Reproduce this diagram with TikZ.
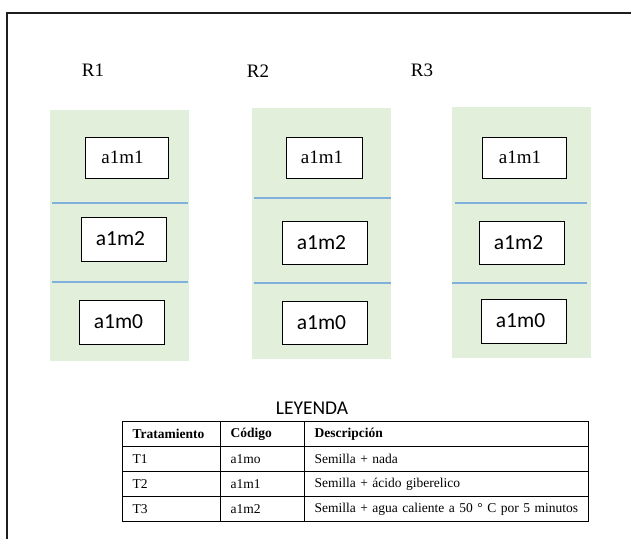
\documentclass[tikz,border=0pt]{standalone}
\usepackage{fontspec}
\setmainfont{Liberation Serif}
\newfontfamily\calib{Carlito}
\definecolor{panelgreen}{RGB}{226,239,218}
\definecolor{sepblue}{RGB}{128,176,222}
\definecolor{framegray}{RGB}{30,30,30}
\tikzset{
  panel/.style={fill=panelgreen, draw=none, inner sep=0pt},
  plotbox/.style={draw=black, line width=1pt, fill=white, inner sep=0pt},
  serlab/.style={font=\fontsize{19}{22}\selectfont},
  sanlab/.style={font=\calib\fontsize{21.5}{24}\selectfont},
  rlabel/.style={font=\fontsize{19}{22}\selectfont, inner sep=0pt},
  sepline/.style={draw=sepblue, line width=1.3pt},
  cell/.style={draw=black, line width=1.2pt, anchor=north west, inner xsep=10pt, inner ysep=0pt,
    minimum height=25pt, align=left, font=\fontsize{13.5}{15}\selectfont},
}
\begin{document}
\begin{tikzpicture}[x=1pt,y=-1pt]
\useasboundingbox (0,0) rectangle (631,539);
% frame
\coordinate (fbl) at (7,539);
\coordinate (ftl) at (7,13);
\coordinate (ftr) at (631,13);
\draw[framegray, line width=1.8pt] (fbl) -- (ftl) -- (ftr);

% labels
\node[rlabel] (r1) at (93,70) {R1};
\node[rlabel] (r2) at (258,71) {R2};
\node[rlabel] (r3) at (422,70) {R3};

% panels
\node[panel, minimum width=139pt, minimum height=251pt] (p1) at (119.5,235.5) {};
\node[panel, minimum width=139pt, minimum height=251pt] (p2) at (321.5,233.5) {};
\node[panel, minimum width=139pt, minimum height=251pt] (p3) at (521.5,232.5) {};

% separators
\draw[sepline] (52,203) -- (188,203);
\draw[sepline] (52,282) -- (188,282);
\draw[sepline] (254,198) -- (391,198);
\draw[sepline] (254,283) -- (391,283);
\draw[sepline] (455,203) -- (587,203);
\draw[sepline] (452,283) -- (587,283);

% boxes panel 1
\node[plotbox, serlab, minimum width=83pt, minimum height=41pt] (b11) at (126.5,157.5) {\kern-8pt a1m1};
\node[plotbox, sanlab, minimum width=85pt, minimum height=44pt] (b12) at (123.5,239) {\kern-6pt a1m2};
\node[plotbox, sanlab, minimum width=85pt, minimum height=44pt] (b10) at (121.5,322) {\kern-6pt a1m0};
% boxes panel 2
\node[plotbox, serlab, minimum width=76pt, minimum height=41pt] (b21) at (324,157.5) {\kern-4pt a1m1};
\node[plotbox, sanlab, minimum width=85pt, minimum height=43pt] (b22) at (324.5,242.5) {\kern-6pt a1m2};
\node[plotbox, sanlab, minimum width=85pt, minimum height=43pt] (b20) at (324.5,322.5) {\kern-6pt a1m0};
% boxes panel 3
\node[plotbox, serlab, minimum width=84pt, minimum height=41pt] (b31) at (524,157.5) {\kern-8pt a1m1};
\node[plotbox, sanlab, minimum width=85pt, minimum height=43pt] (b32) at (521.5,242.5) {\kern-6pt a1m2};
\node[plotbox, sanlab, minimum width=85pt, minimum height=44pt] (b30) at (523.5,321) {\kern-6pt a1m0};

% legend title
\node[font=\calib\fontsize{19.5}{22}\selectfont, inner sep=0pt] (ley) at (312,408) {LEYENDA};

% table
\node[cell, text width=78pt] (h1) at (122,421) {\textbf{Tratamiento}};
\node[cell, text width=64pt] (h2) at (220,421) {\textbf{Código}};
\node[cell, text width=264pt] (h3) at (304,421) {\textbf{Descripción}};
\node[cell, text width=78pt] (c11) at (122,446) {T1};
\node[cell, text width=64pt] (c12) at (220,446) {a1mo};
\node[cell, text width=264pt] (c13) at (304,446) {Semilla + nada};
\node[cell, text width=78pt] (c21) at (122,471) {T2};
\node[cell, text width=64pt] (c22) at (220,471) {a1m1};
\node[cell, text width=264pt] (c23) at (304,471) {Semilla + ácido giberelico};
\node[cell, text width=78pt] (c31) at (122,496) {T3};
\node[cell, text width=64pt] (c32) at (220,496) {a1m2};
\node[cell, text width=264pt] (c33) at (304,496) {Semilla + agua caliente a 50 ° C por 5 minutos};
\end{tikzpicture}
\end{document}
